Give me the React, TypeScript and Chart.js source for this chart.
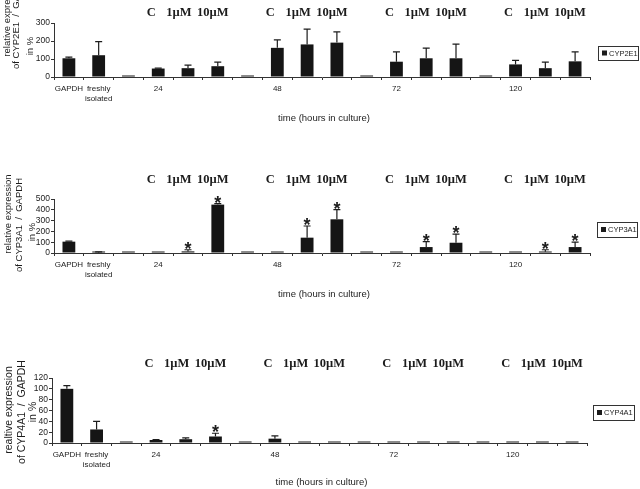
import React, { useEffect, useRef } from 'react';
import { Chart, registerables } from 'chart.js';

Chart.register(...registerables);

// ---------- data ----------
const categories: (string | string[])[] = [
  'GAPDH', ['freshly', 'isolated'], '', '24', '', '', '', '48', '', '', '', '72', '', '', '', '120', '', '',
];
const groupHeaders = ['C', '1µM', '10µM'];
const groupFirstIndex = [3, 7, 11, 15];

const cyp2e1Values = [104, 121, 0.5, 47, 49, 60, 0.5, 162, 181, 191, 0.5, 85, 104, 104, 0.5, 70, 49, 87];
const cyp2e1Errors = [6, 75, 0, 2, 17, 23, 0, 44, 85, 60, 0, 55, 56, 79, 0, 22, 34, 53];
const cyp2e1Stars: number[] = [];

const cyp3a1Values = [105, 3, 1, 2, 15, 448, 1, 2, 142, 312, 1, 2, 55, 95, 1, 2, 12, 55];
const cyp3a1Errors = [5, 8, 0, 0, 15, 10, 0, 0, 108, 90, 0, 0, 50, 80, 0, 0, 18, 45];
const cyp3a1Stars = [4, 5, 8, 9, 12, 13, 16, 17];

const cyp4a1Values = [100, 25, 0.5, 5.5, 7, 12, 0.5, 8, 1, 0.5, 0.5, 1, 1, 1, 0.5, 1, 1, 1];
const cyp4a1Errors = [6, 15, 0, 1, 2.5, 6, 0, 5, 0, 0, 0, 0, 0, 0, 0, 0, 0, 0];
const cyp4a1Stars = [5];

const xTitle = 'time (hours in culture)';

// ---------- layout ----------
const SANS = "'Liberation Sans', Arial, Helvetica, sans-serif";
const SERIF = "'Liberation Serif', 'Times New Roman', Times, serif";
const INK = '#1c1c1c';

type Spec = {
  top: number; height: number;
  plotTop: number; plotBottom: number; plotLeft: number; plotRight: number;
  values: number[]; errors: number[]; stars: number[];
  yMax: number; yStep: number;
  legendLabel: string;
  yTitle: string[]; yTitleX: number[]; yTitleY: number[]; yTitleFont: number;
  headerBaseline: number; xTitleY: number;
  legend: { x: number; y: number; w: number; h: number };
};

const panels: Spec[] = [
  {
    top: 0, height: 163, plotTop: 23, plotBottom: 77, plotLeft: 54, plotRight: 590,
    values: cyp2e1Values, errors: cyp2e1Errors, stars: cyp2e1Stars, yMax: 300, yStep: 100,
    legendLabel: 'CYP2E1',
    yTitle: ['relative expression', 'of CYP2E1  /  GAPDH', 'in %'],
    yTitleX: [7, 16, 30], yTitleY: [17, 22, 46], yTitleFont: 9.5,
    headerBaseline: 16, xTitleY: 118,
    legend: { x: 598, y: 46, w: 40, h: 14 },
  },
  {
    top: 163, height: 163, plotTop: 36, plotBottom: 90, plotLeft: 54, plotRight: 590,
    values: cyp3a1Values, errors: cyp3a1Errors, stars: cyp3a1Stars, yMax: 500, yStep: 100,
    legendLabel: 'CYP3A1',
    yTitle: ['relative expression', 'of CYP3A1  /  GAPDH', 'in %'],
    yTitleX: [8, 19, 32], yTitleY: [51, 62, 69], yTitleFont: 9.5,
    headerBaseline: 20, xTitleY: 131,
    legend: { x: 597, y: 59, w: 40, h: 15 },
  },
  {
    top: 326, height: 163, plotTop: 52, plotBottom: 117, plotLeft: 52, plotRight: 587,
    values: cyp4a1Values, errors: cyp4a1Errors, stars: cyp4a1Stars, yMax: 120, yStep: 20,
    legendLabel: 'CYP4A1',
    yTitle: ['realtive expression', 'of CYP4A1  /  GAPDH', 'in %'],
    yTitleX: [9, 22, 33], yTitleY: [84, 86, 86], yTitleFont: 10.5,
    headerBaseline: 41, xTitleY: 156,
    legend: { x: 593, y: 79, w: 41, h: 15 },
  },
];

const decorPlugin = {
  id: 'decor',
  afterDatasetsDraw(chart: any, _args: any, opts: any) {
    const spec: Spec = opts.spec;
    const ctx = chart.ctx;
    const meta = chart.getDatasetMeta(0);
    const ys = chart.scales.y;
    ctx.save();
    // error bars
    ctx.strokeStyle = INK;
    ctx.lineWidth = 1.2;
    spec.values.forEach((v, i) => {
      const e = spec.errors[i];
      if (!e) return;
      const bx = meta.data[i].x;
      const y0 = ys.getPixelForValue(v);
      const y1 = ys.getPixelForValue(v + e);
      ctx.beginPath();
      ctx.moveTo(bx, y0);
      ctx.lineTo(bx, y1);
      ctx.moveTo(bx - 3.5, y1);
      ctx.lineTo(bx + 3.5, y1);
      ctx.stroke();
    });
    // stars
    ctx.fillStyle = INK;
    ctx.font = `bold 18px ${SANS}`;
    ctx.textAlign = 'center';
    ctx.textBaseline = 'alphabetic';
    spec.stars.forEach((i) => {
      const top = ys.getPixelForValue(spec.values[i] + spec.errors[i]);
      ctx.fillText('*', meta.data[i].x, top + 5);
    });
    ctx.restore();
  },
  afterDraw(chart: any, _args: any, opts: any) {
    const spec: Spec = opts.spec;
    const ctx = chart.ctx;
    const meta = chart.getDatasetMeta(0);
    const area = chart.chartArea;
    ctx.save();
    ctx.fillStyle = INK;
    // group headers
    ctx.font = `bold 12.5px ${SERIF}`;
    ctx.textAlign = 'center';
    ctx.textBaseline = 'alphabetic';
    const shifts = [-7, -9, -5];
    groupFirstIndex.forEach((g) => {
      groupHeaders.forEach((h, k) => {
        ctx.fillText(h, meta.data[g + k].x + shifts[k], spec.headerBaseline);
      });
    });
    // y title
    ctx.font = `${spec.yTitleFont}px ${SANS}`;
    ctx.textBaseline = 'middle';
    spec.yTitle.forEach((line, k) => {
      ctx.save();
      ctx.translate(spec.yTitleX[k], spec.yTitleY[k]);
      ctx.rotate(-Math.PI / 2);
      ctx.fillText(line, 0, 0);
      ctx.restore();
    });
    // x title
    ctx.font = `9.5px ${SANS}`;
    ctx.fillText(xTitle, (area.left + area.right) / 2 + 2, spec.xTitleY);
    // legend
    const L = spec.legend;
    ctx.strokeStyle = '#333';
    ctx.lineWidth = 1;
    ctx.strokeRect(L.x + 0.5, L.y + 0.5, L.w, L.h);
    ctx.fillRect(L.x + 4, L.y + L.h / 2 - 2.5, 5, 5);
    ctx.font = `7.5px ${SANS}`;
    ctx.textAlign = 'left';
    ctx.fillText(spec.legendLabel, L.x + 11, L.y + L.h / 2 + 0.5);
    ctx.restore();
  },
};

function Panel({ spec }: { spec: Spec }) {
  const ref = useRef<HTMLCanvasElement | null>(null);
  useEffect(() => {
    if (!ref.current) return;
    const xAxisH = 30;
    const chart = new Chart(ref.current, {
      type: 'bar',
      data: {
        labels: categories as any,
        datasets: [
          {
            label: spec.legendLabel,
            data: spec.values,
            backgroundColor: '#151515',
            borderWidth: 0,
            barPercentage: 0.43,
            categoryPercentage: 1,
            minBarLength: 1.5,
          },
        ],
      },
      options: {
        responsive: false,
        animation: false,
        devicePixelRatio: 1,
        layout: {
          padding: {
            left: 0,
            top: spec.plotTop,
            right: 640 - spec.plotRight,
            bottom: spec.height - spec.plotBottom - xAxisH,
          },
        },
        plugins: {
          legend: { display: false },
          tooltip: { enabled: false },
          decor: { spec },
        } as any,
        scales: {
          x: {
            type: 'category',
            afterFit: (s: any) => { s.height = xAxisH; },
            grid: { display: true, drawOnChartArea: false, drawTicks: true, tickLength: 3, color: '#333', offset: true },
            border: { display: true, color: '#333', width: 1 },
            ticks: {
              autoSkip: false, maxRotation: 0, minRotation: 0, padding: 4,
              color: INK, font: { family: SANS, size: 8 },
            },
          },
          y: {
            min: 0,
            max: spec.yMax,
            afterFit: (s: any) => { s.width = spec.plotLeft; },
            grid: { display: true, drawOnChartArea: false, drawTicks: true, tickLength: 3, color: '#333' },
            border: { display: true, color: '#333', width: 1 },
            ticks: {
              stepSize: spec.yStep, padding: 1, autoSkip: false,
              color: INK, font: { family: SANS, size: 8.5 },
            },
          },
        },
      },
      plugins: [decorPlugin as any],
    });
    return () => chart.destroy();
  }, [spec]);
  return (
    <canvas
      ref={ref}
      width={640}
      height={spec.height}
      style={{ position: 'absolute', left: 0, top: spec.top, width: 640, height: spec.height }}
    />
  );
}

export default function App() {
  return (
    <div style={{ position: 'absolute', left: 0, top: 0, width: 640, height: 489, background: '#fff', overflow: 'hidden' }}>
      {panels.map((p, i) => (
        <Panel key={i} spec={p} />
      ))}
    </div>
  );
}
